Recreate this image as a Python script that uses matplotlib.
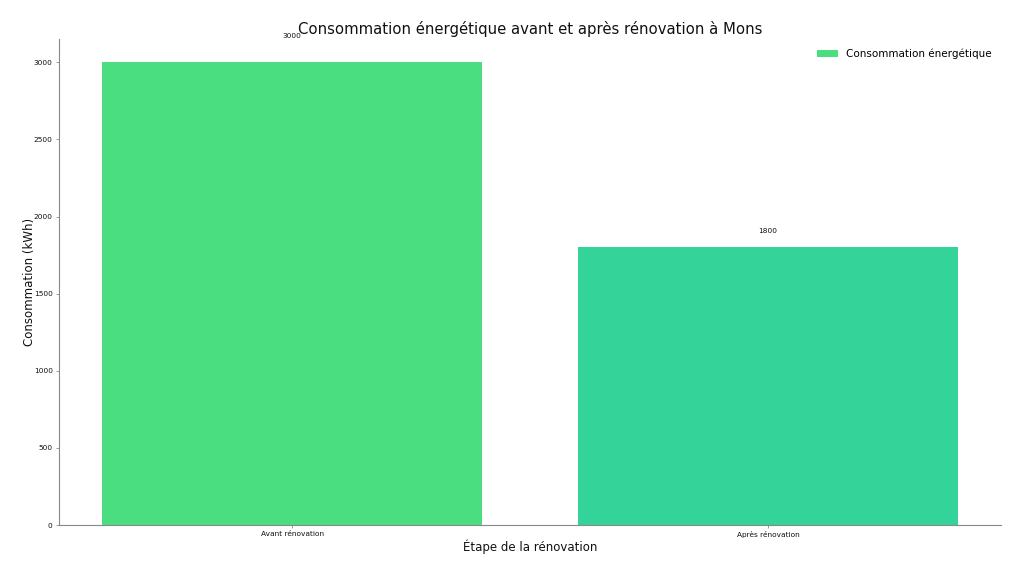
import matplotlib
matplotlib.use("Agg")
import matplotlib.pyplot as plt

categories = ["Avant rénovation", "Après rénovation"]
values = [3000, 1800]
colors = ["#4ADE80", "#34D399"]
series_label = "Consommation énergétique"

fig = plt.figure(figsize=(10.24, 5.76), dpi=100)
ax = fig.add_axes([0.0576, 0.0885, 0.92, 0.8435])

bars = ax.bar(range(len(categories)), values, width=0.8, color=colors, label=series_label)
for i, v in enumerate(values):
    ax.text(i, v * 1.05, str(v), ha="center", va="bottom", fontsize=5.3, color="#111111")

ax.set_ylim(0, max(values) * 1.05)
ax.set_xticks(range(len(categories)))
ax.set_xticklabels(categories)
ax.tick_params(axis="both", labelsize=5.3, colors="#111111", length=2.5, width=0.6, pad=2)
ax.tick_params(axis="both", color="#888888")
for s in ["top", "right"]:
    ax.spines[s].set_visible(False)
for s in ["left", "bottom"]:
    ax.spines[s].set_color("#888888")
    ax.spines[s].set_linewidth(0.8)

ax.set_title("Consommation énergétique avant et après rénovation à Mons", fontsize=10.7, color="#111111", pad=3.5)
ax.set_xlabel("Étape de la rénovation", fontsize=8.5, color="#111111", labelpad=0.8)
ax.set_ylabel("Consommation (kWh)", fontsize=8.5, color="#111111", labelpad=-1.5)
ax.legend(handles=[bars[0]], labels=[series_label], frameon=False, loc="upper right", fontsize=7.5)

fig.savefig("out.png", dpi=100)
